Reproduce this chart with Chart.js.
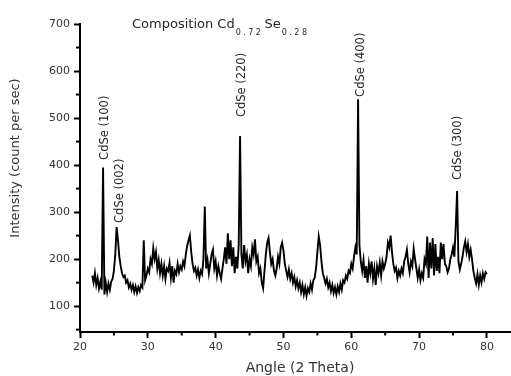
<!DOCTYPE html>
<html>
<head>
<meta charset="utf-8">
<title>CdSe XRD pattern</title>
<script src="https://cdn.jsdelivr.net/npm/chart.js@4.4.1/dist/chart.umd.min.js"></script>
<style>
  body { margin: 0; background: #fff; }
  #wrap { width: 511px; height: 376px; }
</style>
</head>
<body>
<div id="wrap"><canvas id="xrd" width="511" height="376"></canvas></div>
<script>
// 2 theta (deg)
const angles = [
  21.8,
  22.0, 22.2, 22.4, 22.6, 22.8, 23.0, 23.2, 23.4, 23.6, 23.8,
  24.0, 24.2, 24.4, 24.6, 24.8, 25.0, 25.2, 25.4, 25.6, 25.8,
  26.0, 26.2, 26.4, 26.6, 26.8, 27.0, 27.2, 27.4, 27.6, 27.8,
  28.0, 28.2, 28.4, 28.6, 28.8, 29.0, 29.2, 29.4, 29.6, 29.8,
  30.0, 30.2, 30.4, 30.6, 30.8, 31.0, 31.2, 31.4, 31.6, 31.8,
  32.0, 32.2, 32.4, 32.6, 32.8, 33.0, 33.2, 33.4, 33.6, 33.8,
  34.0, 34.2, 34.4, 34.6, 34.8, 35.0, 35.2, 35.4, 35.6, 35.8,
  36.0, 36.2, 36.4, 36.6, 36.8, 37.0, 37.2, 37.4, 37.6, 37.8,
  38.0, 38.2, 38.4, 38.6, 38.8, 39.0, 39.2, 39.4, 39.6, 39.8,
  40.0, 40.2, 40.4, 40.6, 40.8, 41.0, 41.2, 41.4, 41.6, 41.8,
  42.0, 42.2, 42.4, 42.6, 42.8, 43.0, 43.2, 43.4, 43.6, 43.8,
  44.0, 44.2, 44.4, 44.6, 44.8, 45.0, 45.2, 45.4, 45.6, 45.8,
  46.0, 46.2, 46.4, 46.6, 46.8, 47.0, 47.2, 47.4, 47.6, 47.8,
  48.0, 48.2, 48.4, 48.6, 48.8, 49.0, 49.2, 49.4, 49.6, 49.8,
  50.0, 50.2, 50.4, 50.6, 50.8, 51.0, 51.2, 51.4, 51.6, 51.8,
  52.0, 52.2, 52.4, 52.6, 52.8, 53.0, 53.2, 53.4, 53.6, 53.8,
  54.0, 54.2, 54.4, 54.6, 54.8, 55.0, 55.2, 55.4, 55.6, 55.8,
  56.0, 56.2, 56.4, 56.6, 56.8, 57.0, 57.2, 57.4, 57.6, 57.8,
  58.0, 58.2, 58.4, 58.6, 58.8, 59.0, 59.2, 59.4, 59.6, 59.8,
  60.0, 60.2, 60.4, 60.6, 60.8, 61.0, 61.2, 61.4, 61.6, 61.8,
  62.0, 62.2, 62.4, 62.6, 62.8, 63.0, 63.2, 63.4, 63.6, 63.8,
  64.0, 64.2, 64.4, 64.6, 64.8, 65.0, 65.2, 65.4, 65.6, 65.8,
  66.0, 66.2, 66.4, 66.6, 66.8, 67.0, 67.2, 67.4, 67.6, 67.8,
  68.0, 68.2, 68.4, 68.6, 68.8, 69.0, 69.2, 69.4, 69.6, 69.8,
  70.0, 70.2, 70.4, 70.6, 70.8, 71.0, 71.2, 71.4, 71.6, 71.8,
  72.0, 72.2, 72.4, 72.6, 72.8, 73.0, 73.2, 73.4, 73.6, 73.8,
  74.0, 74.2, 74.4, 74.6, 74.8, 75.0, 75.2, 75.4, 75.6, 75.8,
  76.0, 76.2, 76.4, 76.6, 76.8, 77.0, 77.2, 77.4, 77.6, 77.8,
  78.0, 78.2, 78.4, 78.6, 78.8, 79.0, 79.2, 79.4, 79.6, 79.8,
  80.0
];

// intensity (count per sec)
const intensity = [
  165,
  150, 170, 145, 160, 138, 152, 135, 395, 125, 150,
  130, 148, 135, 152, 158, 175, 210, 268, 240, 205,
  185, 170, 162, 165, 150, 155, 140, 148, 135, 145,
  130, 142, 128, 140, 132, 145, 140, 240, 155, 165,
  180, 172, 200, 190, 223, 200, 215, 180, 198, 170,
  190, 165, 185, 158, 180, 175, 192, 160, 185, 150,
  175, 168, 190, 172, 185, 178, 195, 185, 210, 228,
  240, 250, 215, 190, 175, 182, 165, 178, 160, 175,
  168, 200, 312, 180, 198, 170, 190, 210, 220, 180,
  195, 165, 185, 170, 158, 180, 200, 225, 190, 255,
  200, 240, 185, 225, 170, 205, 180, 230, 462, 210,
  180, 230, 195, 210, 170, 200, 185, 225, 210, 242,
  195, 205, 170, 180, 150, 138, 175, 210, 235, 245,
  215, 190, 200, 175, 165, 180, 205, 190, 225, 235,
  218, 190, 175, 162, 178, 158, 170, 150, 162, 142,
  155, 138, 150, 130, 145, 125, 140, 122, 138, 130,
  148, 135, 155, 160, 180, 215, 248, 230, 195, 170,
  160, 148, 158, 140, 150, 132, 145, 128, 140, 125,
  142, 130, 148, 135, 155, 150, 165, 158, 175, 170,
  190, 180, 205, 225, 210, 540, 230, 195, 175, 198,
  160, 185, 150, 190, 170, 195, 158, 180, 145, 185,
  170, 192, 165, 195, 180, 190, 205, 235, 225, 250,
  215, 190, 175, 182, 160, 175, 165, 180, 170, 195,
  205, 220, 190, 172, 195, 185, 222, 200, 180, 160,
  178, 155, 170, 160, 200, 190, 248, 160, 235, 180,
  245, 165, 232, 175, 205, 170, 235, 200, 232, 190,
  185, 172, 180, 200, 210, 225, 205, 270, 345, 195,
  178, 190, 205, 225, 238, 215, 232, 205, 220, 200,
  175, 160, 148, 168, 145, 165, 150, 170, 158, 172,
  168
];

const xTicks = [20, 30, 40, 50, 60, 70, 80];
const xMinor = [25, 35, 45, 55, 65, 75];
const yTicks = [100, 200, 300, 400, 500, 600, 700];
const yMinor = [50, 150, 250, 350, 450, 550, 650];

const peakNames = ['CdSe (100)', 'CdSe (002)', 'CdSe (220)', 'CdSe (400)', 'CdSe (300)'];
const peakLabelAngle = [23.7, 25.9, 43.9, 61.4, 75.75];
const peakLabelBase = [411, 277, 502, 545, 368];

const textColor = '#262626';

// minor ticks, peak labels, subscripted title and axis titles
const extrasPlugin = {
    id: 'extras',
    afterDraw(chart) {
        const ctx = chart.ctx;
        const x = chart.scales.x;
        const y = chart.scales.y;
        const area = chart.chartArea;

        ctx.save();
        ctx.strokeStyle = '#000';
        ctx.lineWidth = 2;
        yMinor.forEach(v => {
            const py = y.getPixelForValue(v);
            ctx.beginPath();
            ctx.moveTo(area.left - 4, py);
            ctx.lineTo(area.left, py);
            ctx.stroke();
        });
        xMinor.forEach(v => {
            const px = x.getPixelForValue(v);
            ctx.beginPath();
            ctx.moveTo(px, area.bottom);
            ctx.lineTo(px, area.bottom + 3.5);
            ctx.stroke();
        });

        // peak labels, rotated
        ctx.fillStyle = textColor;
        ctx.font = '11.5px "DejaVu Sans"';
        ctx.textAlign = 'left';
        ctx.textBaseline = 'middle';
        peakNames.forEach((name, i) => {
            const px = x.getPixelForValue(peakLabelAngle[i]);
            const py = y.getPixelForValue(peakLabelBase[i]);
            ctx.save();
            ctx.translate(px, py);
            ctx.rotate(-Math.PI / 2);
            ctx.fillText(name, 0, 0);
            ctx.restore();
        });

        // title with subscripts
        ctx.textBaseline = 'alphabetic';
        let tx = 132;
        const parts = [
            ['Composition Cd', 13, 28, 0],
            ['0.72', 8, 35, 2.5],
            ['Se', 13, 28, 0],
            ['0.28', 8, 35, 2.5]
        ];
        parts.forEach(([t, size, base, spacing]) => {
            ctx.font = size + 'px "DejaVu Sans"';
            for (const ch of t) {
                ctx.fillText(ch, tx, base);
                tx += ctx.measureText(ch).width + spacing;
            }
            tx += 1;
        });

        // axis titles
        ctx.fillStyle = '#333';
        ctx.font = '13px "DejaVu Sans"';
        ctx.textAlign = 'center';
        ctx.save();
        ctx.translate(19, 158);
        ctx.rotate(-Math.PI / 2);
        ctx.fillText('Intensity (count per sec)', 0, 0);
        ctx.restore();

        ctx.font = '14px "DejaVu Sans"';
        ctx.textBaseline = 'middle';
        ctx.fillText('Angle (2 Theta)', 300, 368);
        ctx.restore();
    }
};

const points = angles.map((a, i) => ({ x: a, y: intensity[i] }));

const ctxEl = document.getElementById('xrd');
const xrdChart = new Chart(ctxEl.getContext('2d'), {
    type: 'line',
    data: {
        datasets: [{
            label: 'Intensity',
            data: points,
            borderColor: '#000',
            borderWidth: 1.9,
            pointRadius: 0,
            tension: 0,
            fill: false
        }]
    },
    options: {
        responsive: false,
        animation: false,
        layout: { padding: { top: 24, right: 1, left: 0, bottom: 0 } },
        plugins: {
            legend: { display: false },
            tooltip: { enabled: false }
        },
        scales: {
            x: {
                type: 'linear',
                min: 20,
                max: 83.4,
                afterBuildTicks: s => { s.ticks = xTicks.map(v => ({ value: v })); },
                afterFit: s => { s.height = 44; },
                border: { color: '#000', width: 2 },
                grid: { drawOnChartArea: false, tickLength: 6, tickWidth: 2, tickColor: '#000' },
                ticks: {
                    color: '#333',
                    padding: 3,
                    maxRotation: 0,
                    font: { family: 'DejaVu Sans', size: 11 }
                }
            },
            y: {
                min: 45,
                max: 700,
                afterBuildTicks: s => { s.ticks = yTicks.map(v => ({ value: v })); },
                afterFit: s => { s.width = 80; },
                border: { color: '#000', width: 2 },
                grid: { drawOnChartArea: false, tickLength: 6, tickWidth: 2, tickColor: '#000' },
                ticks: {
                    color: '#333',
                    padding: 4,
                    font: { family: 'DejaVu Sans', size: 11 }
                }
            }
        }
    },
    plugins: [extrasPlugin]
});
</script>
</body>
</html>
